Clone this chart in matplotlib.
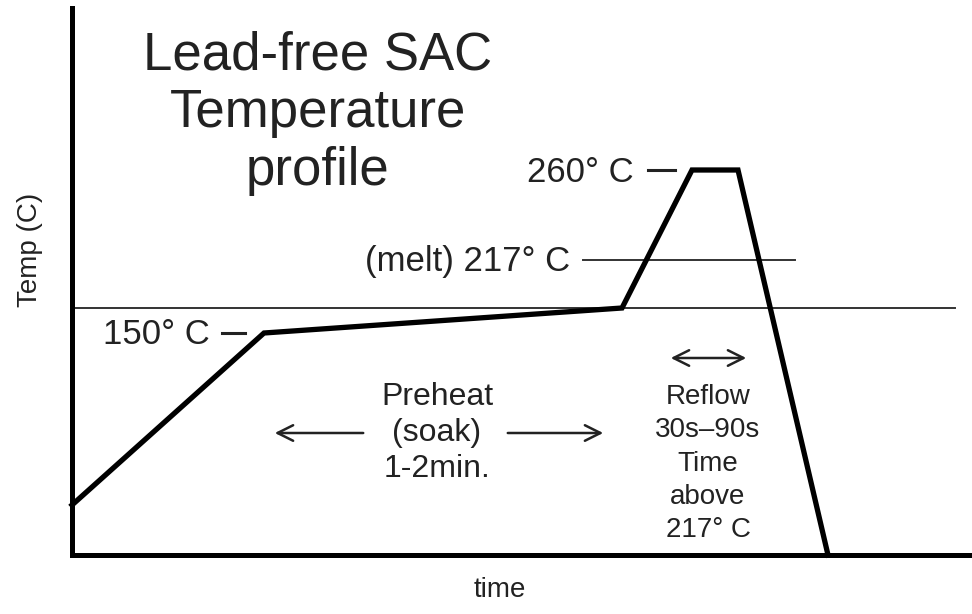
import matplotlib.pyplot as plt

# reflow profile (schematic): time in s, level in chart units
profile_time = [0, 96, 275, 310, 333, 378]
profile_level = [25, 111, 123.5, 192.5, 192.5, 0]

soak_line_level = 123.5
soak_line_span = [0, 441.5]
melt_level = 147.5
melt_span = [255.5, 361.5]

title_text = "Lead-free SAC\nTemperature\nprofile"
preheat_text = "Preheat\n(soak)\n1-2min."
reflow_text = ["Reflow", "30s\u201390s", "Time", "above", "217\u00b0 C"]

plt.rcParams['font.family'] = ['Liberation Sans', 'DejaVu Sans']
ink = '#222222'

fig = plt.figure(figsize=(9.72, 6.14), dpi=100)
ax = fig.add_axes([72 / 972, 59 / 614, 900 / 972, 547 / 614])
ax.set_xlim(0, 450)
ax.set_ylim(0, 273.5)


def px(x, y):
    # pixel position in the picture -> data coords
    return (x - 72) / 2, (555 - y) / 2


#thin reference lines
ax.plot(soak_line_span, [soak_line_level] * 2, color='#333333', lw=1.4)
ax.plot(melt_span, [melt_level] * 2, color='#333333', lw=1.4)

#the profile itself
ax.plot(profile_time, profile_level, color='black', lw=3.8,
        solid_joinstyle='miter', clip_on=False, zorder=3)

#spines
for s in ['top', 'right']:
    ax.spines[s].set_visible(False)
for s in ['left', 'bottom']:
    ax.spines[s].set_linewidth(3.6)
ax.set_xticks([])
ax.set_yticks([])

#title
ax.text(*px(318, 113), title_text, ha='center', va='center', fontsize=38,
        color=ink, linespacing=1.2)

#level labels with dashes
ax.text(*px(634, 172), "260\u00b0 C", ha='right', va='center', fontsize=25, color=ink)
ax.plot(*zip(px(648, 170), px(675, 170)), color=ink, lw=2.2)
ax.text(*px(570, 262), "(melt) 217\u00b0 C", ha='right', va='center', fontsize=25, color=ink)
ax.text(*px(210, 335), "150\u00b0 C", ha='right', va='center', fontsize=25, color=ink)
ax.plot(*zip(px(222, 333), px(245, 333)), color=ink, lw=2.2)

#preheat
ax.text(*px(437, 433), preheat_text, ha='center', va='center', fontsize=23,
        color=ink, linespacing=1.25)
arrow = dict(arrowstyle='->', lw=1.8, color=ink, mutation_scale=28)
ax.annotate('', xy=px(272, 433), xytext=px(366, 433), arrowprops=arrow)
ax.annotate('', xy=px(606, 433), xytext=px(505, 433), arrowprops=arrow)

#reflow
ax.annotate('', xy=px(668, 358), xytext=px(749, 358),
            arrowprops=dict(arrowstyle='<->', lw=1.8, color=ink, mutation_scale=28))
for i, t in enumerate(reflow_text):
    ax.text(*px(708, 397 + i * 33.3), t, ha='center', va='center', fontsize=20, color=ink)

#axis labels
fig.text(30 / 972, 1 - 250 / 614, "Temp (C)", rotation=90, ha='center', va='center',
         fontsize=20, color=ink)
fig.text(500 / 972, 1 - 590 / 614, "time", ha='center', va='center', fontsize=20, color=ink)

fig.savefig('out.png', dpi=100)
